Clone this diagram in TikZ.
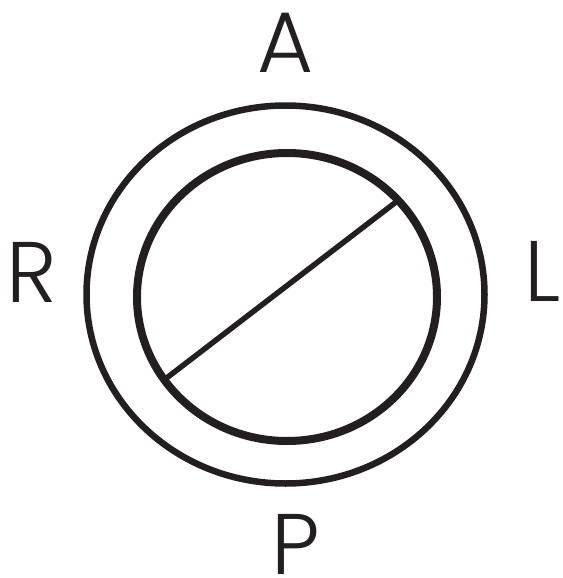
\documentclass[tikz,border=0pt]{standalone}
\usepackage{fontspec}
\setmainfont{Poppins}[UprightFont={* Light}]
\usetikzlibrary{shapes.geometric}
\definecolor{ink}{HTML}{231F20}

\begin{document}
\begin{tikzpicture}[x=1pt, y=-1pt,
  ring/.style={draw=ink, ellipse, inner sep=0pt, outer sep=0pt},
  dirlab/.style={font=\fontsize{86}{86}\selectfont, text=ink, inner sep=0pt, anchor=base},
]
\useasboundingbox (0,0) rectangle (562,578);
\node[ring, line width=6.5pt, minimum width=398pt, minimum height=378pt] (outer) at (285.5,294.5) {};
\node[ring, line width=8pt, minimum width=300pt, minimum height=288pt] (inner) at (287,297) {};
\draw[ink, line width=5.5pt] (inner.214) -- (inner.41);
\node[dirlab] (A) at (286,72) {A};
\node[dirlab] (R) at (32,302) {R};
\node[dirlab] (L) at (543,301) {L};
\node[dirlab] (P) at (296,574) {P};
\end{tikzpicture}
\end{document}
